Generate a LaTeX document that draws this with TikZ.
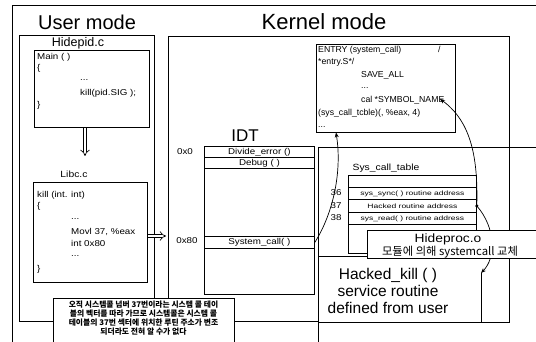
\documentclass[tikz,border=0pt]{standalone}
\usepackage{fontspec}
\setmainfont{Liberation Sans}
\newfontfamily\codefont[FakeStretch=1.15]{Liberation Sans}
\newfontfamily\rowfont[FakeStretch=1.35]{Liberation Sans}
\newfontfamily\krfont{Noto Sans CJK KR}
\usetikzlibrary{arrows.meta}
\begin{document}
\begin{tikzpicture}[x=1pt,y=-1pt,
  box/.style={draw, line width=0.8pt, fill=white, inner sep=0pt, anchor=north west},
  plain/.style={line width=0.8pt},
  code/.style={font=\codefont\fontsize{8.5pt}{10pt}\selectfont, inner sep=0pt, anchor=base west},
  ent/.style={font=\fontsize{8.7pt}{10pt}\selectfont, inner sep=0pt, anchor=base west},
  cell/.style={font=\codefont\fontsize{8.5pt}{10pt}\selectfont, inner sep=0pt},
  rowtxt/.style={font=\rowfont\fontsize{6.3pt}{7pt}\selectfont, inner sep=0pt},
  title/.style={font=\fontsize{20pt}{24pt}\selectfont, inner sep=0pt, anchor=base},
  dblarrow/.style={double, double distance=2.6pt, line width=0.7pt, -{Implies}},
  curvearrow/.style={line width=0.7pt, -{Stealth[length=5pt,width=4pt]}}]
\useasboundingbox (0,0) rectangle (536,342);
\clip (0,0) rectangle (536,342);
% outer frame
\draw[plain] (12,348) -- (12,5) -- (545,5);
\node[title] (ut) at (87,30) {User mode};
\node[title, font=\fontsize{22pt}{26pt}\selectfont] (kt) at (324,30) {Kernel mode};
% user side
\node[box, minimum width=135pt, minimum height=286pt] (hidepid) at (19,35) {};
\node[inner sep=0pt, anchor=base, font=\fontsize{12.5pt}{14pt}\selectfont] (hplbl) at (78,47) {Hidepid.c};
\node[box, minimum width=115pt, minimum height=77pt] (main) at (34,50) {};
\node[code] (m1) at (37,60) {Main ( )};
\node[code] (m2) at (37,71) {\{};
\node[code] (m3) at (80,81) {...};
\node[code] (m4) at (80,96) {kill(pid.SIG );};
\node[code] (m5) at (37,108) {\}};
\coordinate (a1) at (85,156);
\draw[dblarrow] (main.south -| a1) -- (a1);
\node[inner sep=0pt, anchor=base, font=\codefont\fontsize{9pt}{10pt}\selectfont] (libclbl) at (74,178) {Libc.c};
\node[box, minimum width=114pt, minimum height=100pt] (libc) at (33,182) {};
\node[code] (k1) at (37,198) {kill (int. int)};
\node[code] (k2) at (37,208) {\{};
\node[code] (k3) at (71,219) {...};
\node[code] (k4) at (71,235) {Movl 37, \%eax};
\node[code] (k5) at (71,247) {int 0x80};
\node[code] (k6) at (71,257) {...};
\node[code] (k7) at (37,271) {\}};
% kernel side
\node[box, minimum width=341pt, minimum height=285pt] (kernel) at (168,36) {};
\coordinate (a2) at (166,236);
\draw[dblarrow] (libc.east |- a2) -- (a2);
\draw[plain] (318,147) -- (545,147);
\draw[plain] (318,147) -- (318,348);
% entry box
\node[box, minimum width=139pt, minimum height=88pt] (entry) at (316,44) {};
\node[ent] (e1) at (318,53) {ENTRY (system\_call)};
\node[ent] (e1b) at (438,53) {/};
\node[ent] (e2) at (318,65) {*entry.S*/};
\node[ent] (e3) at (361,78) {SAVE\_ALL};
\node[ent] (e4) at (361,89) {...};
\node[ent] (e5) at (361,103) {cal *SYMBOL\_NAME};
\node[ent] (e6) at (318,116) {(sys\_call\_tcble)(, \%eax, 4)};
\node[ent] (e7) at (318,128) {...};
% IDT
\node[title, font=\fontsize{17pt}{20pt}\selectfont] (idtlbl) at (245,142) {IDT};
\node[box, minimum width=110pt, minimum height=148pt] (idt) at (204,146) {};
\node[box, minimum width=110pt, minimum height=11pt] (div) at (204,146) {};
\node[cell] (divt) at (div.center) {Divide\_error ()};
\node[box, minimum width=110pt, minimum height=11pt] (dbg) at (204,157) {};
\node[cell] (dbgt) at (dbg.center) {Debug ( )};
\node[box, minimum width=110pt, minimum height=12pt] (sysc) at (204,236) {};
\node[cell] (sysct) at (sysc.center) {System\_call( )};
\node[cell] (l0) at (185,152) {0x0};
\node[cell] (l80) at (187,241) {0x80};
% sys_call_table
\node[cell, font=\codefont\fontsize{9pt}{10pt}\selectfont] (stlbl) at (386,168) {Sys\_call\_table};
\node[box, minimum width=128pt, minimum height=78pt] (st) at (348,175) {};
\node[box, minimum width=128pt, minimum height=12pt] (sync) at (348,187) {};
\node[rowtxt] (synct) at (sync.center) {sys\_sync( ) routine address};
\node[box, minimum width=128pt, minimum height=13pt] (hacked) at (348,199) {};
\node[rowtxt] (hackedt) at (hacked.center) {Hacked routine address};
\node[box, minimum width=128pt, minimum height=12pt] (read) at (348,212) {};
\node[rowtxt] (readt) at (read.center) {sys\_read( ) routine address};
\node[cell] (n36) at (336,193) {36};
\node[cell] (n37) at (336,205.5) {37};
\node[cell] (n38) at (336,218) {38};
% hacked kill
\node[box, minimum width=191pt, minimum height=66pt] (hk) at (318,256) {};
\node[align=center, inner sep=0pt, font=\fontsize{15.5pt}{17pt}\selectfont] (hkt) at (388,291) {Hacked\_kill ( )\\service routine\\defined from user};
\coordinate (hkin) at (481,273);
\draw[plain] (hkin) -- (hkin |- hk.south);
% curves
\coordinate (entryin) at (336,132.5);
\draw[curvearrow] (sysc.east) .. controls (334,212) and (342,170) .. (entryin);
\coordinate (symend) at (440,99);
\draw[curvearrow] (hacked.east) .. controls (478,160) and (472,122) .. (symend);
\fill (hacked.east) circle (1.7pt);
\draw[curvearrow] (hacked.east) .. controls (496,228) and (496,258) .. (hkin);
% hideproc
\node[box, minimum width=180pt, minimum height=28pt] (hp) at (367,230) {};
\node[inner sep=0pt, font=\codefont\fontsize{12pt}{14pt}\selectfont] (hpt1) at (448,239) {Hideproc.o};
\node[inner sep=0pt, font=\krfont\fontsize{11.3pt}{13pt}\selectfont] (hpt2) at (450,252) {모듈에 의해 systemcall 교체};
% note
\node[box, minimum width=181pt, minimum height=50pt] (note) at (53,298) {};
\node[align=center, inner sep=0pt, font=\krfont\bfseries\fontsize{7.8pt}{9pt}\selectfont] (notet) at (143.5,318.5) {오직 시스템콜 넘버 37번이라는 시스템 콜 테이\\블의 벡터를 따라 가므로 시스템콜은 시스템 콜\\테이블의 37번 섹터에 위치한 루틴 주소가 변조\\되더라도 전혀 알 수가 없다};
\end{tikzpicture}
\end{document}
